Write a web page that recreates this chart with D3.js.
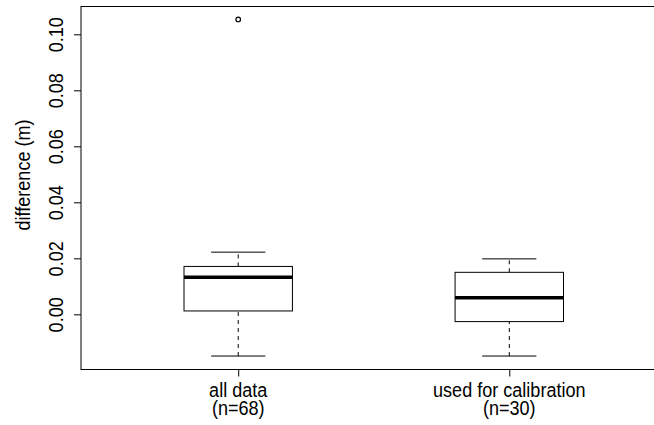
<!DOCTYPE html>
<html>
<head>
<meta charset="utf-8">
<script src="https://cdn.jsdelivr.net/npm/d3@7"></script>
<style>
  body { margin: 0; background: #fff; }
  svg { display: block; }
  text { font-family: "Liberation Sans", Arial, sans-serif; fill: #000; }
</style>
</head>
<body>
<div id="chart"></div>
<script>
// Box statistics
const groups = ["all data", "used for calibration"];
const groupN = ["(n=68)", "(n=30)"];
const lowerWhisker = [-0.0149, -0.0149];
const lowerQuartile = [0.0012, -0.0026];
const medians = [0.0132, 0.0059];
const upperQuartile = [0.0171, 0.0150];
const upperWhisker = [0.0222, 0.0198];
const outliers = [[0.1053], []];
const yTicks = [0.00, 0.02, 0.04, 0.06, 0.08, 0.10];

const width = 654;
const height = 425;
const fontSize = 21;
const squeeze = 0.86; // the original font is narrower than Arial

const svg = d3.select("#chart")
    .append("svg")
    .attr("width", width)
    .attr("height", height);

// R style ranges: 0.5..n+0.5 padded by 4%
const xScale = d3.scaleLinear()
    .domain([0.42, 2.58])
    .range([81, 666.5]);

const allVals = lowerWhisker.concat(upperWhisker, outliers.flat());
const yMin = d3.min(allVals), yMax = d3.max(allVals);
const pad = (yMax - yMin) * 0.04;
const yScale = d3.scaleLinear()
    .domain([yMin - pad, yMax + pad])
    .range([369.5, 6]);

const boxHalf = 0.2;
const capHalf = 0.1;

// y axis
const yAxis = svg.append("g")
    .attr("transform", "translate(81,0)")
    .call(d3.axisLeft(yScale).tickValues(yTicks).tickFormat(d3.format(".2f")).tickSize(7));
yAxis.select(".domain").remove();
yAxis.selectAll("line").attr("stroke", "#000");
yAxis.selectAll(".tick text")
    .attr("font-size", fontSize)
    .attr("fill", "#000")
    .attr("text-anchor", "middle")
    .attr("dy", null)
    .attr("x", 0)
    .attr("y", 0)
    .attr("transform", `translate(-18,0) rotate(-90) scale(${squeeze},1)`);

// x axis ticks
const xAxis = svg.append("g")
    .attr("transform", "translate(0,369.5)")
    .call(d3.axisBottom(xScale).tickValues([1, 2]).tickSize(7).tickFormat(""));
xAxis.select(".domain").remove();
xAxis.selectAll("line").attr("stroke", "#000");

groups.forEach((g, i) => {
    svg.append("text")
        .attr("transform", `translate(${xScale(i + 1)},397) scale(${squeeze},1)`)
        .attr("text-anchor", "middle")
        .attr("font-size", fontSize)
        .text(g);
    svg.append("text")
        .attr("transform", `translate(${xScale(i + 1)},415) scale(${squeeze},1)`)
        .attr("text-anchor", "middle")
        .attr("font-size", fontSize)
        .text(groupN[i]);
});

// frame
svg.append("rect")
    .attr("x", 81)
    .attr("y", 6.5)
    .attr("width", 666.5 - 81)
    .attr("height", 369.5 - 6.5)
    .attr("fill", "none")
    .attr("stroke", "#000")
    .attr("stroke-width", 1);

// y label
svg.append("text")
    .attr("transform", `translate(30,175) rotate(-90) scale(${squeeze},1)`)
    .attr("text-anchor", "middle")
    .attr("font-size", fontSize)
    .text("difference (m)");

// boxes
const boxes = svg.append("g").selectAll("g")
    .data(groups.map((g, i) => ({
        x: i + 1,
        lo: lowerWhisker[i], q1: lowerQuartile[i], med: medians[i],
        q3: upperQuartile[i], hi: upperWhisker[i], out: outliers[i]
    })))
    .enter().append("g");

boxes.append("line")
    .attr("x1", d => xScale(d.x)).attr("x2", d => xScale(d.x))
    .attr("y1", d => yScale(d.lo)).attr("y2", d => yScale(d.q1))
    .attr("stroke", "#000").attr("stroke-dasharray", "4,4");
boxes.append("line")
    .attr("x1", d => xScale(d.x)).attr("x2", d => xScale(d.x))
    .attr("y1", d => yScale(d.q3)).attr("y2", d => yScale(d.hi))
    .attr("stroke", "#000").attr("stroke-dasharray", "4,4");
boxes.append("line")
    .attr("x1", d => xScale(d.x - capHalf)).attr("x2", d => xScale(d.x + capHalf))
    .attr("y1", d => yScale(d.lo)).attr("y2", d => yScale(d.lo))
    .attr("stroke", "#000");
boxes.append("line")
    .attr("x1", d => xScale(d.x - capHalf)).attr("x2", d => xScale(d.x + capHalf))
    .attr("y1", d => yScale(d.hi)).attr("y2", d => yScale(d.hi))
    .attr("stroke", "#000");
boxes.append("rect")
    .attr("x", d => xScale(d.x - boxHalf))
    .attr("width", d => xScale(d.x + boxHalf) - xScale(d.x - boxHalf))
    .attr("y", d => yScale(d.q3))
    .attr("height", d => yScale(d.q1) - yScale(d.q3))
    .attr("fill", "#fff")
    .attr("stroke", "#000");
boxes.append("line")
    .attr("x1", d => xScale(d.x - boxHalf)).attr("x2", d => xScale(d.x + boxHalf))
    .attr("y1", d => yScale(d.med)).attr("y2", d => yScale(d.med))
    .attr("stroke", "#000").attr("stroke-width", 3.5);
boxes.selectAll("circle")
    .data(d => d.out.map(v => ({ x: d.x, v })))
    .enter().append("circle")
    .attr("cx", d => xScale(d.x))
    .attr("cy", d => yScale(d.v))
    .attr("r", 2.3)
    .attr("fill", "none")
    .attr("stroke", "#000")
    .attr("stroke-width", 1.2);
</script>
</body>
</html>
